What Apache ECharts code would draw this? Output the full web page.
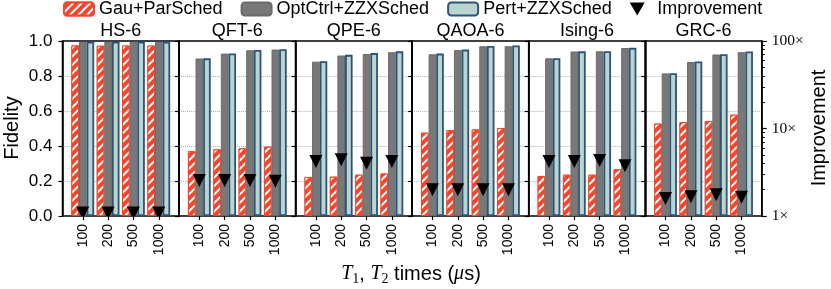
<!DOCTYPE html>
<html><head><meta charset="utf-8">
<script src="https://cdn.jsdelivr.net/npm/echarts@6/dist/echarts.min.js"></script>
<style>html,body{margin:0;padding:0;background:#fff}#c{width:831px;height:289px}</style>
</head><body><div id="c"></div>
<script>
const panels = ['HS-6','QFT-6','QPE-6','QAOA-6','Ising-6','GRC-6'];
const categories = ['100','200','500','1000'];
const gauParSched = [
  [0.975,0.973,0.974,0.974],
  [0.370,0.381,0.387,0.396],
  [0.223,0.225,0.236,0.243],
  [0.476,0.491,0.495,0.503],
  [0.229,0.236,0.236,0.267],
  [0.528,0.537,0.543,0.579]];
const optCtrlZZX = [
  [0.995,0.995,0.995,0.995],
  [0.900,0.928,0.947,0.951],
  [0.882,0.917,0.926,0.936],
  [0.924,0.948,0.970,0.970],
  [0.901,0.940,0.941,0.960],
  [0.815,0.880,0.923,0.936]];
const pertZZX = [
  [0.996,0.996,0.996,0.996],
  [0.901,0.929,0.949,0.953],
  [0.885,0.921,0.931,0.941],
  [0.928,0.951,0.972,0.975],
  [0.902,0.941,0.942,0.961],
  [0.816,0.883,0.925,0.940]];
const improvement = [
  [1.08,1.08,1.08,1.08],
  [2.55,2.55,2.55,2.5],
  [4.2,4.4,4.0,4.2],
  [2.0,2.0,2.0,2.0],
  [4.2,4.2,4.3,3.75],
  [1.58,1.66,1.75,1.64]];
const fidelityTicks = [0, 0.2, 0.4, 0.6, 0.8, 1.0];
const improvementMinorTicks = [2,3,4,5,6,7,8,9,20,30,40,50,60,70,80,90];

const SANS = 'Liberation Sans, Arial, sans-serif';
const SERIF = 'Liberation Serif, Times New Roman, serif';
const RED = '#F2472D', GREY = '#787878', TEAL = '#BAD5D0', NAVY = '#2C5378';
const PL = 62.5, PW = 116.55, TOP = 41, H = 175;
const INSET = PW * 0.3 / 4.6;

const grids = [], xAxes = [], yAxes = [], series = [];
for (let i = 0; i < 6; i++) {
  grids.push({left: PL + i*PW, top: TOP, width: PW, height: H, show: true,
    borderColor: '#000', borderWidth: 1.5, backgroundColor: 'transparent'});
}
for (let i = 0; i < 6; i++) {
  grids.push({left: PL + i*PW + INSET, top: TOP, width: PW - 2*INSET, height: H});
}
for (let i = 0; i < 6; i++) {
  xAxes.push({gridIndex: i, type: 'value', min: 0, max: 1, show: false});
}
for (let i = 0; i < 6; i++) {
  xAxes.push({gridIndex: 6+i, type: 'category', data: categories,
    axisLine: {show: false},
    axisTick: {show: true, alignWithLabel: true, length: 4, lineStyle: {color: '#000', width: 1.2}},
    axisLabel: {rotate: 90, fontSize: 14, color: '#000', fontFamily: SANS, margin: 8}});
}
for (let i = 0; i < 6; i++) {
  yAxes.push({gridIndex: i, type: 'value', min: fidelityTicks[0], max: fidelityTicks[fidelityTicks.length-1], interval: 0.2,
    axisLine: {show: true, lineStyle: {color: '#000', width: 1.5}},
    axisTick: {show: true, length: 4, lineStyle: {color: '#000', width: 1.2}},
    axisLabel: {show: i === 0, fontSize: 17, color: '#000', fontFamily: SANS, margin: 10,
      formatter: v => v.toFixed(1)},
    splitLine: {show: true, showMinLine: false, showMaxLine: false,
      lineStyle: {type: 'dotted', color: '#b0b0b0', width: 1}}});
}
for (let i = 0; i < 6; i++) {
  yAxes.push({gridIndex: 6+i, type: 'value', min: 0, max: 1, show: false});
}
for (let i = 0; i < 6; i++) {
  yAxes.push({gridIndex: 6+i, type: 'log', logBase: 10, min: 1, max: 100, show: false});
}
yAxes.push({gridIndex: 5, type: 'log', logBase: 10, min: 1, max: 100, position: 'right',
  axisLine: {show: true, lineStyle: {color: '#000', width: 1.5}},
  axisTick: {show: true, length: 5, lineStyle: {color: '#000', width: 1.2}},
  axisLabel: {fontSize: 15.5, color: '#000', fontFamily: SERIF, margin: 10, formatter: v => v + '×'},
  splitLine: {show: false}});
yAxes.push({gridIndex: 5, type: 'log', logBase: 10, min: 1, max: 100, position: 'right',
  axisLine: {show: false}, axisLabel: {show: false}, splitLine: {show: false},
  axisTick: {show: true, length: 3, customValues: improvementMinorTicks, lineStyle: {color: '#000', width: 1}}});

const BW = PW / 4.6 * 0.3;
for (let i = 0; i < 6; i++) {
  series.push({type: 'bar', name: 'Gau+ParSched', xAxisIndex: 6+i, yAxisIndex: 6+i,
    data: gauParSched[i], barWidth: BW, barGap: '0%',
    itemStyle: {color: RED, borderColor: RED, borderWidth: 1,
      decal: {symbol: 'rect', symbolSize: 1, color: '#ffffff', dashArrayX: [1, 0], dashArrayY: [1.6, 3.2], rotation: -Math.PI/4}}});
  series.push({type: 'bar', name: 'OptCtrl+ZZXSched', xAxisIndex: 6+i, yAxisIndex: 6+i,
    data: optCtrlZZX[i], barWidth: BW, barGap: '0%',
    itemStyle: {color: GREY, borderColor: '#6a6a6a', borderWidth: 1}});
  series.push({type: 'bar', name: 'Pert+ZZXSched', xAxisIndex: 6+i, yAxisIndex: 6+i,
    data: pertZZX[i], barWidth: BW, barGap: '0%',
    itemStyle: {color: TEAL, borderColor: NAVY, borderWidth: 1.8}});
  series.push({type: 'custom', name: 'Improvement', xAxisIndex: 6+i, yAxisIndex: 12+i,
    data: improvement[i].map((v, j) => [j, v]), encode: {x: 0, y: 1}, clip: true, z: 10,
    itemStyle: {color: '#000'},
    renderItem: (params, api) => {
      const p = api.coord([api.value(0), api.value(1)]);
      const s = 6.5;
      return {type: 'polygon', shape: {points: [[p[0]-s, p[1]-s], [p[0]+s, p[1]-s], [p[0], p[1]+s]]},
        style: {fill: '#000'}};
    }});
}

const graphic = [];
panels.forEach((t, i) => {
  graphic.push({type: 'text', x: PL + i*PW + PW/2, y: 31,
    style: {text: t, align: 'center', verticalAlign: 'middle', fontSize: 18, fontFamily: SANS, fill: '#000'}});
});
graphic.push({type: 'text', x: 12, y: 128, rotation: Math.PI/2,
  style: {text: 'Fidelity', align: 'center', verticalAlign: 'middle', fontSize: 20, fontFamily: SANS, fill: '#000'}});
graphic.push({type: 'text', x: 819, y: 128, rotation: Math.PI/2,
  style: {text: 'Improvement', align: 'center', verticalAlign: 'middle', fontSize: 20, fontFamily: SANS, fill: '#000'}});
graphic.push({type: 'text', x: 411, y: 274,
  style: {text: '{it|T}{sub|1}{n|, }{it|T}{sub|2}{n| times (}{it|μ}{n|s)}', align: 'center', verticalAlign: 'middle',
    rich: {
      it: {fontFamily: SERIF, fontStyle: 'italic', fontSize: 20, lineHeight: 24, verticalAlign: 'middle', fill: '#000'},
      sub: {fontFamily: SERIF, fontSize: 14, lineHeight: 24, verticalAlign: 'bottom', fill: '#000'},
      n: {fontFamily: SANS, fontSize: 20, lineHeight: 24, verticalAlign: 'middle', fill: '#000'}
    }}});

const chart = echarts.init(document.getElementById('c'), null, {renderer: 'canvas'});
chart.setOption({
  animation: false,
  backgroundColor: '#fff',
  legend: {top: 0, left: 63, padding: 0, itemWidth: 30, itemHeight: 13, itemGap: 18, selectedMode: false,
    textStyle: {fontSize: 18, color: '#000', fontFamily: SANS},
    data: [{name: 'Gau+ParSched'}, {name: 'OptCtrl+ZZXSched'}, {name: 'Pert+ZZXSched'},
      {name: 'Improvement', icon: 'path://M0,0L15,0L7.5,13Z', itemStyle: {color: '#000'}}]},
  grid: grids, xAxis: xAxes, yAxis: yAxes, series: series, graphic: graphic
});
</script></body></html>
